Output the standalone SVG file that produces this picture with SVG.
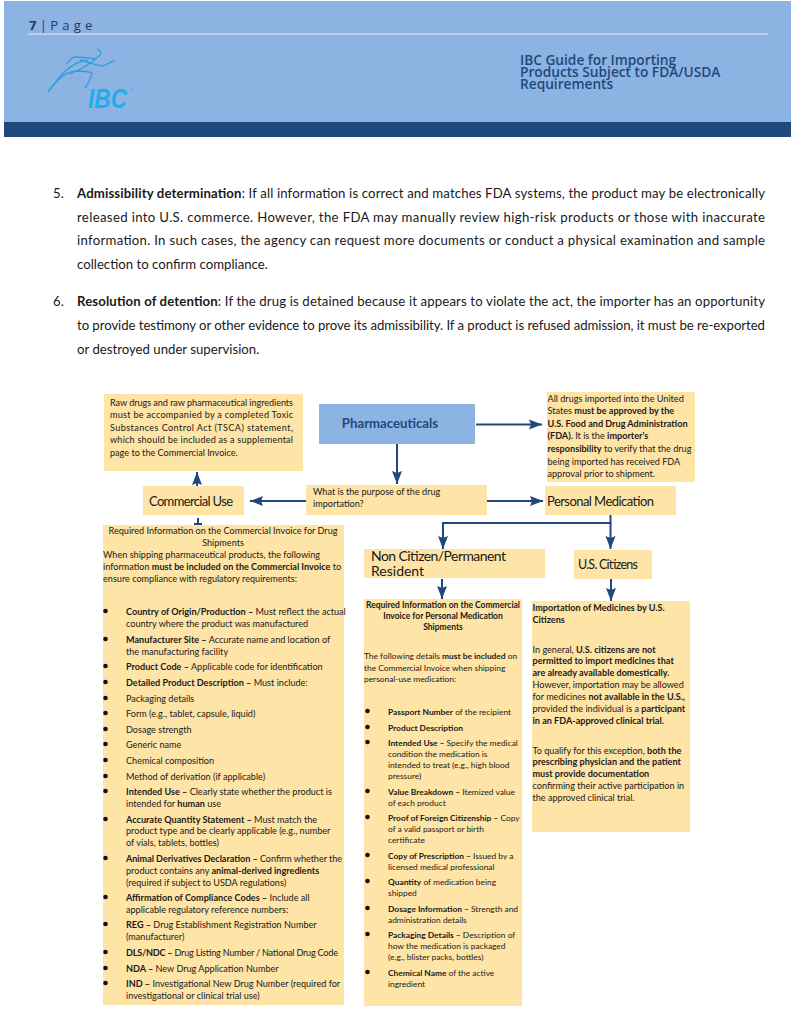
<svg xmlns="http://www.w3.org/2000/svg" width="791" height="1024" viewBox="0 0 791 1024">
<style>
text{font-family:Lato,"Liberation Sans",sans-serif;fill:#1a1a1a}
.p{font-size:13.2px}
.s{font-size:9.1px}
.r{font-size:8.4px}
.rt{font-size:8.5px;font-weight:700;text-anchor:middle}
.n{font-size:13px}
.c{text-anchor:middle}
.b{font-weight:700}
.box{fill:#FEE4A6}
.ln{fill:none;stroke:#1F497D;stroke-width:2}
.dot{fill:#111}
.h{fill:#1F497D;font-family:"Open Sans","Liberation Sans",sans-serif;font-weight:600;font-size:13.7px}
.logo{fill:none;stroke:#2E9FDF;stroke-width:1.3}
</style>
<defs>
<marker id="ah" markerUnits="userSpaceOnUse" markerWidth="13" markerHeight="12" refX="13" refY="6" orient="auto"><path d="M0 1 L13 6 L0 11 L2 6Z" fill="#1F497D"/></marker>
</defs>
<rect width="791" height="1024" fill="#fff"/>
<g id="header">
<rect x="4" y="1" width="787" height="121" fill="#8DB3E2"/>
<rect x="4" y="122" width="787" height="15" fill="#1F497D"/>
<rect x="28" y="33.500" width="740" height="1.200" fill="#D9E2EE"/>
<text x="29" y="30" style="font-size:13px;fill:#1F3864;font-family:'Open Sans',sans-serif"><tspan class="b">7</tspan> | <tspan letter-spacing="4.200">Page</tspan></text>
<path class="logo" d="M48 92C58 78 66 72 76 71C84 71 90 72 92 73C91 78 88 84 85 88"/>
<path class="logo" d="M48 92C60 76 70 62 88 60"/>
<path class="logo" d="M67 64C70 60 72 57 75 57C82 57 90 58 96 59"/>
<path class="logo" d="M97 49C102 51 102 54 98 57C90 64 80 70 70 74"/>
<path class="logo" d="M80 60C88 62 96 65 102 66C107 65 111 62 115 60"/>
<text x="88" y="108" style="font-family:'Liberation Sans',sans-serif;font-size:28px;font-weight:700;font-style:italic;fill:#1DAEEE" textLength="39" lengthAdjust="spacingAndGlyphs">IBC</text>
<text x="130" y="91" style="font-size:4px;fill:#1DAEEE">®</text>
<text class="h" x="520" y="65">IBC Guide for Importing</text>
<text class="h" x="520" y="77">Products Subject to FDA/USDA</text>
<text class="h" x="520" y="89">Requirements</text>
</g>
<g id="body-text">
<text class="p" x="53" y="198">5.</text>
<text class="p" x="77" y="198" textLength="688"><tspan class="b">Admissibility determination</tspan>: If all information is correct and matches FDA systems, the product may be electronically</text>
<text class="p" x="77" y="221.500" textLength="688">released into U.S. commerce. However, the FDA may manually review high-risk products or those with inaccurate</text>
<text class="p" x="77" y="245" textLength="688">information. In such cases, the agency can request more documents or conduct a physical examination and sample</text>
<text class="p" x="77" y="268.500">collection to confirm compliance.</text>
<text class="p" x="53" y="306">6.</text>
<text class="p" x="77" y="306" textLength="688"><tspan class="b">Resolution of detention</tspan>: If the drug is detained because it appears to violate the act, the importer has an opportunity</text>
<text class="p" x="77" y="330" textLength="688">to provide testimony or other evidence to prove its admissibility. If a product is refused admission, it must be re-exported</text>
<text class="p" x="77" y="354">or destroyed under supervision.</text>
</g>
<g id="connectors">
<path class="ln" d="M476 424.500H542" marker-end="url(#ah)"/>
<path class="ln" d="M397 444V484" marker-end="url(#ah)"/>
<path class="ln" d="M487 501H543" marker-end="url(#ah)"/>
<path class="ln" d="M306 501H250" marker-end="url(#ah)"/>
<path class="ln" d="M197 486V472" marker-end="url(#ah)"/>
<path class="ln" d="M198 518V525M194 524H202"/>
<path class="ln" d="M610.500 515V523H443V549" marker-end="url(#ah)"/>
<path class="ln" d="M610.500 523V549" marker-end="url(#ah)"/>
<path class="ln" d="M442 579V599" marker-end="url(#ah)"/>
<path class="ln" d="M611 579V601" marker-end="url(#ah)"/>
</g>
<g id="node-raw">
<rect class="box" x="104" y="394" width="199" height="77"/>
<text class="s" x="110" y="406" textLength="183">Raw drugs and raw pharmaceutical ingredients</text>
<text class="s" x="110" y="418" textLength="183">must be accompanied by a completed Toxic</text>
<text class="s" x="110" y="431" textLength="183">Substances Control Act (TSCA) statement,</text>
<text class="s" x="110" y="443" textLength="183">which should be included as a supplemental</text>
<text class="s" x="110" y="456">page to the Commercial Invoice.</text>
</g>
<g id="node-pharma">
<rect x="319" y="404" width="156" height="40" fill="#8DB3E2"/>
<text class="c b" x="390" y="428" style="font-size:13.2px;fill:#1F497D">Pharmaceuticals</text>
</g>
<g id="node-fda">
<rect class="box" x="547" y="392" width="148" height="90"/>
<text class="s" x="547.500" y="402">All drugs imported into the United</text>
<text class="s" x="547.500" y="414">States <tspan class="b">must be approved by the</tspan></text>
<text class="s b" x="547.500" y="427">U.S. Food and Drug Administration</text>
<text class="s" x="547.500" y="439"><tspan class="b">(FDA).</tspan> It is the <tspan class="b">importer's</tspan></text>
<text class="s" x="547.500" y="452"><tspan class="b">responsibility</tspan> to verify that the drug</text>
<text class="s" x="547.500" y="465">being imported has received FDA</text>
<text class="s" x="547.500" y="477">approval prior to shipment.</text>
</g>
<g id="node-commercial">
<rect class="box" x="143" y="486" width="101" height="29"/>
<text class="n" x="149" y="506" textLength="84">Commercial Use</text>
</g>
<g id="node-purpose">
<rect class="box" x="306" y="485" width="181" height="30"/>
<text class="s" x="313" y="495">What is the purpose of the drug</text>
<text class="s" x="313" y="507">importation?</text>
</g>
<g id="node-personal">
<rect class="box" x="545" y="486" width="131" height="29"/>
<text class="n" x="547" y="506" textLength="107">Personal Medication</text>
</g>
<g id="node-noncitizen">
<rect class="box" x="364" y="549" width="181" height="29"/>
<text class="n" x="371" y="561" style="font-size:14px" textLength="135">Non Citizen/Permanent</text>
<text class="n" x="371" y="576" style="font-size:14px">Resident</text>
</g>
<g id="node-citizens">
<rect class="box" x="574" y="550" width="78" height="29"/>
<text class="n" x="578" y="569" style="font-size:12.500px" textLength="60">U.S. Citizens</text>
</g>
<g id="node-commercial-invoice">
<rect class="box" x="103" y="525" width="241" height="480"/>
<text class="s c" x="223" y="534">Required Information on the Commercial Invoice for Drug</text>
<text class="s c" x="223" y="546">Shipments</text>
<text class="s" x="103" y="558">When shipping pharmaceutical products, the following</text>
<text class="s" x="103" y="570">information <tspan class="b">must be included on the Commercial Invoice</tspan> to</text>
<text class="s" x="103" y="582">ensure compliance with regulatory requirements:</text>
<g class="dot">
<circle cx="105.500" cy="611" r="2.300"/><circle cx="105.500" cy="639" r="2.300"/><circle cx="105.500" cy="666" r="2.300"/><circle cx="105.500" cy="682" r="2.300"/><circle cx="105.500" cy="698" r="2.300"/><circle cx="105.500" cy="713" r="2.300"/><circle cx="105.500" cy="729" r="2.300"/><circle cx="105.500" cy="744" r="2.300"/><circle cx="105.500" cy="760" r="2.300"/><circle cx="105.500" cy="776" r="2.300"/><circle cx="105.500" cy="791" r="2.300"/><circle cx="105.500" cy="819" r="2.300"/><circle cx="105.500" cy="858" r="2.300"/><circle cx="105.500" cy="897" r="2.300"/><circle cx="105.500" cy="924" r="2.300"/><circle cx="105.500" cy="952" r="2.300"/><circle cx="105.500" cy="968" r="2.300"/><circle cx="105.500" cy="983" r="2.300"/>
</g>
<text class="s" x="126" y="615"><tspan class="b">Country of Origin/Production –</tspan> Must reflect the actual</text>
<text class="s" x="126" y="627">country where the product was manufactured</text>
<text class="s" x="126" y="643"><tspan class="b">Manufacturer Site –</tspan> Accurate name and location of</text>
<text class="s" x="126" y="655">the manufacturing facility</text>
<text class="s" x="126" y="670"><tspan class="b">Product Code –</tspan> Applicable code for identification</text>
<text class="s" x="126" y="686"><tspan class="b">Detailed Product Description –</tspan> Must include:</text>
<text class="s" x="126" y="702">Packaging details</text>
<text class="s" x="126" y="717">Form (e.g., tablet, capsule, liquid)</text>
<text class="s" x="126" y="733">Dosage strength</text>
<text class="s" x="126" y="748">Generic name</text>
<text class="s" x="126" y="764">Chemical composition</text>
<text class="s" x="126" y="780">Method of derivation (if applicable)</text>
<text class="s" x="126" y="795"><tspan class="b">Intended Use –</tspan> Clearly state whether the product is</text>
<text class="s" x="126" y="807">intended for <tspan class="b">human</tspan> use</text>
<text class="s" x="126" y="823"><tspan class="b">Accurate Quantity Statement –</tspan> Must match the</text>
<text class="s" x="126" y="834">product type and be clearly applicable (e.g., number</text>
<text class="s" x="126" y="846">of vials, tablets, bottles)</text>
<text class="s" x="126" y="862" textLength="216"><tspan class="b">Animal Derivatives Declaration –</tspan> Confirm whether the</text>
<text class="s" x="126" y="874">product contains any <tspan class="b">animal-derived ingredients</tspan></text>
<text class="s" x="126" y="886">(required if subject to USDA regulations)</text>
<text class="s" x="126" y="901"><tspan class="b">Affirmation of Compliance Codes –</tspan> Include all</text>
<text class="s" x="126" y="913">applicable regulatory reference numbers:</text>
<text class="s" x="126" y="928"><tspan class="b">REG –</tspan> Drug Establishment Registration Number</text>
<text class="s" x="126" y="940">(manufacturer)</text>
<text class="s" x="126" y="956" textLength="212"><tspan class="b">DLS/NDC –</tspan> Drug Listing Number / National Drug Code</text>
<text class="s" x="126" y="972"><tspan class="b">NDA –</tspan> New Drug Application Number</text>
<text class="s" x="126" y="987"><tspan class="b">IND –</tspan> Investigational New Drug Number (required for</text>
<text class="s" x="126" y="999">investigational or clinical trial use)</text>
</g>
<g id="node-personal-invoice">
<rect class="box" x="364" y="599" width="158" height="407"/>
<text class="rt" x="443" y="608">Required Information on the Commercial</text>
<text class="rt" x="443" y="619">Invoice for Personal Medication</text>
<text class="rt" x="443" y="630">Shipments</text>
<text class="r" x="364" y="659">The following details <tspan class="b">must be included</tspan> on</text>
<text class="r" x="364" y="671">the Commercial Invoice when shipping</text>
<text class="r" x="364" y="682">personal-use medication:</text>
<g class="dot">
<circle cx="367.500" cy="711" r="2.300"/><circle cx="367.500" cy="727" r="2.300"/><circle cx="367.500" cy="742" r="2.300"/><circle cx="367.500" cy="791" r="2.300"/><circle cx="367.500" cy="817" r="2.300"/><circle cx="367.500" cy="855" r="2.300"/><circle cx="367.500" cy="881" r="2.300"/><circle cx="367.500" cy="908" r="2.300"/><circle cx="367.500" cy="934" r="2.300"/><circle cx="367.500" cy="972" r="2.300"/>
</g>
<text class="r" x="388" y="715"><tspan class="b">Passport Number</tspan> of the recipient</text>
<text class="r b" x="388" y="731">Product Description</text>
<text class="r" x="388" y="746"><tspan class="b">Intended Use –</tspan> Specify the medical</text>
<text class="r" x="388" y="757">condition the medication is</text>
<text class="r" x="388" y="768">intended to treat (e.g., high blood</text>
<text class="r" x="388" y="779">pressure)</text>
<text class="r" x="388" y="795"><tspan class="b">Value Breakdown –</tspan> Itemized value</text>
<text class="r" x="388" y="806">of each product</text>
<text class="r" x="388" y="821"><tspan class="b">Proof of Foreign Citizenship –</tspan> Copy</text>
<text class="r" x="388" y="832">of a valid passport or birth</text>
<text class="r" x="388" y="843">certificate</text>
<text class="r" x="388" y="859"><tspan class="b">Copy of Prescription –</tspan> Issued by a</text>
<text class="r" x="388" y="870">licensed medical professional</text>
<text class="r" x="388" y="885"><tspan class="b">Quantity</tspan> of medication being</text>
<text class="r" x="388" y="896">shipped</text>
<text class="r" x="388" y="912"><tspan class="b">Dosage Information –</tspan> Strength and</text>
<text class="r" x="388" y="923">administration details</text>
<text class="r" x="388" y="938"><tspan class="b">Packaging Details –</tspan> Description of</text>
<text class="r" x="388" y="949">how the medication is packaged</text>
<text class="r" x="388" y="960">(e.g., blister packs, bottles)</text>
<text class="r" x="388" y="976"><tspan class="b">Chemical Name</tspan> of the active</text>
<text class="r" x="388" y="987">ingredient</text>
</g>
<g id="node-us-import">
<rect class="box" x="532" y="601" width="158" height="231"/>
<text class="s b" x="532.500" y="611">Importation of Medicines by U.S.</text>
<text class="s b" x="532.500" y="623">Citizens</text>
<text class="s" x="532.500" y="653">In general, <tspan class="b">U.S. citizens are not</tspan></text>
<text class="s b" x="532.500" y="664">permitted to import medicines that</text>
<text class="s b" x="532.500" y="676">are already available domestically.</text>
<text class="s" x="532.500" y="688">However, importation may be allowed</text>
<text class="s" x="532.500" y="700">for medicines <tspan class="b">not available in the U.S.,</tspan></text>
<text class="s" x="532.500" y="712">provided the individual is a <tspan class="b">participant</tspan></text>
<text class="s b" x="532.500" y="724">in an FDA-approved clinical trial.</text>
<text class="s" x="532.500" y="754">To qualify for this exception, <tspan class="b">both the</tspan></text>
<text class="s b" x="532.500" y="765">prescribing physician and the patient</text>
<text class="s b" x="532.500" y="777">must provide documentation</text>
<text class="s" x="532.500" y="789">confirming their active participation in</text>
<text class="s" x="532.500" y="801">the approved clinical trial.</text>
</g>
</svg>
